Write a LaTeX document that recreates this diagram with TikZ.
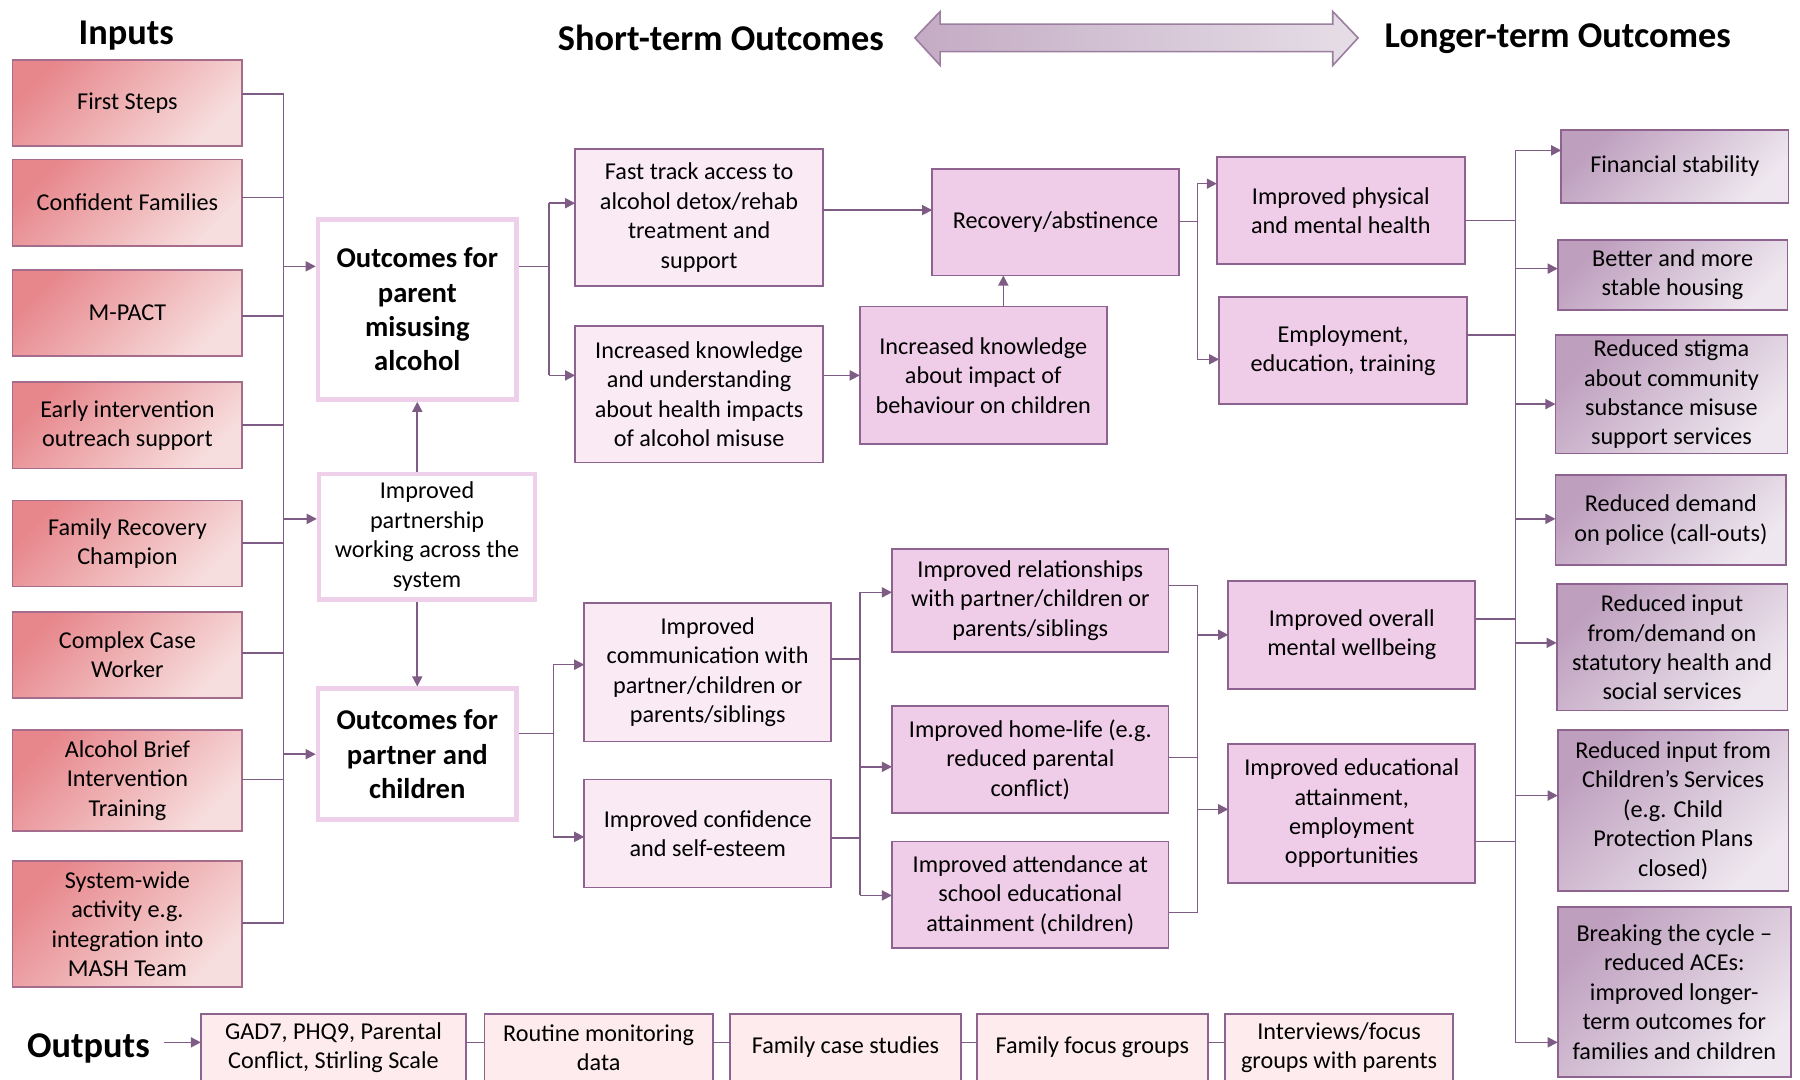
\documentclass[tikz,border=0pt]{standalone}
\usepackage{fontspec}
\setmainfont{Carlito}
\usetikzlibrary{arrows.meta}
\definecolor{lnc}{HTML}{7F5C85}
\definecolor{bdc}{HTML}{8E6390}
\definecolor{inbd}{HTML}{A56C8C}
\definecolor{inA}{HTML}{E7878C}
\definecolor{inB}{HTML}{F7DEDE}
\definecolor{ltA}{HTML}{BE9FBE}
\definecolor{ltB}{HTML}{EEE7EF}
\definecolor{lightf}{HTML}{F9EAF4}
\definecolor{medf}{HTML}{EFCCE8}
\definecolor{outf}{HTML}{FDEBEE}
\definecolor{thk}{HTML}{EFD0EA}
\definecolor{arA}{HTML}{C3ABC4}
\definecolor{arB}{HTML}{E6DEE7}
\definecolor{arbd}{HTML}{9C7EA0}
\newcommand\mybx[7]{\node[#1, minimum width={(#5-#3)*0.02cm}, minimum height={(#6-#4)*0.02cm}] (#2) at ({(#3+#5)/2},{(#4+#6)/2}) {#7};}
\begin{document}
\begin{tikzpicture}[x=0.02cm,y=-0.02cm,
 every node/.style={inner sep=0pt, outer sep=0pt},
 bx/.style={draw=bdc, line width=0.85pt, align=center, font=\fontsize{12}{14.6}\selectfont, text=black},
 inp/.style={bx, draw=inbd, top color=inA, bottom color=inB, shading angle=45},
 ltm/.style={bx, top color=ltA, bottom color=ltB, shading angle=45},
 lbox/.style={bx, fill=lightf},
 mbox/.style={bx, fill=medf},
 obox/.style={bx, fill=outf},
 tbox/.style={draw=thk, line width=2.3pt, fill=white, align=center, outer sep=1.15pt, font=\fontsize{14.2}{17}\selectfont\bfseries},
 pbox/.style={tbox, font=\fontsize{12}{14.6}\selectfont},
 ln/.style={draw=lnc, line width=0.8pt},
 arr/.style={ln, -{Triangle[length=5pt,width=5pt]}},
 head/.style={font=\fontsize{18}{21}\selectfont\bfseries}
]
\useasboundingbox (0,0) rectangle (1568,940);
\clip (0,0) rectangle (1568,940);
\fill[white] (0,0) rectangle (1568,940);

% titles
\node[head] (tin) at (110,31) {Inputs};
\node[head] (tst) at (628,33) {Short-term Outcomes};
\node[head] (tlt) at (1357,34) {Longer-term Outcomes};
\node[head] (tout) at (77,913) {Outputs};
\draw[draw=arbd, line width=0.8pt, left color=arA, right color=arB]
 (797,33) -- (819,10) -- (819,21) -- (1161,21) -- (1161,10) -- (1183,33)
 -- (1161,57) -- (1161,45) -- (819,45) -- (819,57) -- cycle;

% inputs
\mybx{inp}{i1}{11}{52}{211}{127}{First Steps}
\mybx{inp}{i2}{11}{139}{211}{214}{Confident Families}
\mybx{inp}{i3}{11}{235}{211}{310}{M-PACT}
\mybx{inp}{i4}{11}{333}{211}{408}{Early intervention\\outreach support}
\mybx{inp}{i5}{11}{436}{211}{511}{Family Recovery\\Champion}
\mybx{inp}{i6}{11}{533}{211}{608}{Complex Case\\Worker}
\mybx{inp}{i7}{11}{636}{211}{724}{Alcohol Brief\\Intervention\\Training}
\mybx{inp}{i8}{11}{750}{211}{860}{System-wide\\activity e.g.\\integration into\\MASH Team}

% central
\mybx{tbox}{op}{277}{191}{450}{348}{Outcomes for\\parent\\misusing\\alcohol}
\mybx{pbox}{pw}{278}{413}{466}{522}{Improved\\partnership\\working across the\\system}
\mybx{tbox}{pc}{277}{600}{450}{714}{Outcomes for\\partner and\\children}

% short-term upper
\mybx{lbox}{ft}{501}{130}{717}{249}{Fast track access to\\alcohol detox/rehab\\treatment and\\support}
\mybx{lbox}{ik}{501}{284}{717}{403}{Increased knowledge\\and understanding\\about health impacts\\of alcohol misuse}
\mybx{mbox}{rec}{812}{147}{1027}{240}{Recovery/abstinence}
\mybx{mbox}{ik2}{749}{267}{964}{387}{Increased knowledge\\about impact of\\behaviour on children}
\mybx{mbox}{ph}{1060}{137}{1276}{230}{Improved physical\\and mental health}
\mybx{mbox}{emp}{1062}{259}{1278}{352}{Employment,\\education, training}

% short-term lower
\mybx{lbox}{cm}{509}{525}{724}{646}{Improved\\communication with\\partner/children or\\parents/siblings}
\mybx{lbox}{cf}{509}{679}{724}{773}{Improved confidence\\and self-esteem}
\mybx{mbox}{rl}{777}{478}{1018}{568}{Improved relationships\\with partner/children or\\parents/siblings}
\mybx{mbox}{hl}{777}{615}{1018}{708}{Improved home-life (e.g.\\reduced parental\\conflict)}
\mybx{mbox}{at}{777}{733}{1018}{826}{Improved attendance at\\school educational\\attainment (children)}
\mybx{mbox}{ov}{1070}{506}{1285}{600}{Improved overall\\mental wellbeing}
\mybx{mbox}{ed}{1070}{648}{1285}{769}{Improved educational\\attainment,\\employment\\opportunities}

% longer-term
\mybx{ltm}{l1}{1360}{113}{1558}{177}{Financial stability}
\mybx{ltm}{l2}{1357}{209}{1557}{270}{Better and more\\stable housing}
\mybx{ltm}{l3}{1355}{292}{1557}{395}{Reduced stigma\\about community\\substance misuse\\support services}
\mybx{ltm}{l4}{1355}{414}{1556}{492}{Reduced demand\\on police (call-outs)}
\mybx{ltm}{l5}{1356}{509}{1557}{619}{Reduced input\\from/demand on\\statutory health and\\social services}
\mybx{ltm}{l6}{1357}{636}{1558}{776}{Reduced input from\\Children’s Services\\(e.g. Child\\Protection Plans\\closed)}
\mybx{ltm}{l7}{1357}{790}{1560}{938}{Breaking the cycle --\\reduced ACEs:\\improved longer-\\term outcomes for\\families and children}

% outputs
\mybx{obox}{o1}{175}{883}{406}{942}{GAD7, PHQ9, Parental\\Conflict, Stirling Scale}
\mybx{obox}{o2}{422}{883}{621}{942}{Routine monitoring\\data}
\mybx{obox}{o3}{636}{883}{837}{942}{Family case studies}
\mybx{obox}{o4}{851}{883}{1052}{942}{Family focus groups}
\mybx{obox}{o5}{1067}{883}{1266}{942}{Interviews/focus\\groups with parents}

% input bus
\coordinate (bl) at (247,0);
\foreach \n/\y in {i1/82,i2/172,i3/275,i4/370,i5/473,i6/569,i7/679,i8/804}
  \draw[ln] (\n.east |- 0,\y) -- (bl |- 0,\y);
\draw[ln] (bl |- 0,82) -- (bl |- 0,804);
\draw[arr] (bl |- 0,232) -- (op.west |- 0,232);
\draw[arr] (bl |- 0,452) -- (pw.west |- 0,452);
\draw[arr] (bl |- 0,657) -- (pc.west |- 0,657);
\draw[arr] (op.south |- pw.north) -- (op.south);
\draw[arr] (op.south |- pw.south) -- (pc.north);

% upper short-term
\coordinate (ja) at (478,232);
\draw[ln] (op.east |- ja) -- (ja);
\draw[ln] (ja |- 0,177) -- (ja |- 0,327);
\draw[arr] (ja |- 0,177) -- (ft.west |- 0,177);
\draw[arr] (ja |- 0,327) -- (ik.west |- 0,327);
\draw[arr] (ft.east |- 0,183) -- (rec.west |- 0,183);
\draw[arr] (ik.east |- 0,327) -- (ik2.west |- 0,327);
\draw[arr] (ik2.north -| 874,0) -- (rec.south -| 874,0);
\coordinate (jb) at (1043,193);
\draw[ln] (rec.east |- jb) -- (jb);
\draw[ln] (jb |- 0,160) -- (jb |- 0,313);
\draw[arr] (jb |- 0,160) -- (ph.west |- 0,160);
\draw[arr] (jb |- 0,313) -- (emp.west |- 0,313);

% lower short-term
\coordinate (jc) at (482,639);
\draw[ln] (pc.east |- jc) -- (jc);
\draw[ln] (jc |- 0,579) -- (jc |- 0,729);
\draw[arr] (jc |- 0,579) -- (cm.west |- 0,579);
\draw[arr] (jc |- 0,729) -- (cf.west |- 0,729);
\coordinate (jd) at (749,0);
\draw[ln] (cm.east |- 0,574) -- (jd |- 0,574);
\draw[ln] (cf.east |- 0,730) -- (jd |- 0,730);
\draw[ln] (jd |- 0,516) -- (jd |- 0,780);
\draw[arr] (jd |- 0,516) -- (rl.west |- 0,516);
\draw[arr] (jd |- 0,668) -- (hl.west |- 0,668);
\draw[arr] (jd |- 0,780) -- (at.west |- 0,780);
\coordinate (je) at (1043,0);
\draw[ln] (rl.east |- 0,510) -- (je |- 0,510);
\draw[ln] (hl.east |- 0,660) -- (je |- 0,660);
\draw[ln] (at.east |- 0,795) -- (je |- 0,795);
\draw[ln] (je |- 0,510) -- (je |- 0,795);
\draw[arr] (je |- 0,553) -- (ov.west |- 0,553);
\draw[arr] (je |- 0,705) -- (ed.west |- 0,705);

% right bus
\coordinate (br) at (1320,0);
\draw[ln] (br |- 0,131) -- (br |- 0,908);
\foreach \n/\y in {ph/192,emp/292,ov/539,ed/733}
  \draw[ln] (\n.east |- 0,\y) -- (br |- 0,\y);
\foreach \n/\y in {l1/131,l2/234,l3/352,l4/452,l5/560,l6/693,l7/908}
  \draw[arr] (br |- 0,\y) -- (\n.west |- 0,\y);

% outputs chain
\draw[arr, shorten <=7pt] (tout.east |- 0,908) -- (o1.west |- 0,908);
\draw[ln] (o1.east |- 0,908) -- (o2.west |- 0,908);
\draw[ln] (o2.east |- 0,908) -- (o3.west |- 0,908);
\draw[ln] (o3.east |- 0,908) -- (o4.west |- 0,908);
\draw[ln] (o4.east |- 0,908) -- (o5.west |- 0,908);
\end{tikzpicture}
\end{document}
